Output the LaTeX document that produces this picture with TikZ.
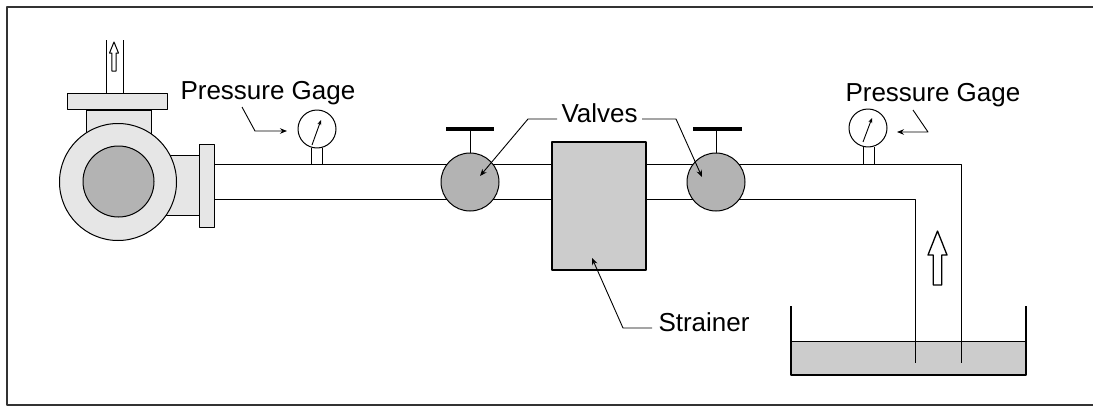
\documentclass[tikz,border=0pt]{standalone}
\usepackage{fontspec}
\setmainfont{Liberation Sans}
\usetikzlibrary{arrows.meta}
\definecolor{lightfill}{HTML}{E6E6E6}
\definecolor{midfill}{HTML}{B3B3B3}
\definecolor{boxfill}{HTML}{CCCCCC}
\definecolor{framecol}{HTML}{333333}
\begin{document}
\begin{tikzpicture}[x=1pt,y=-1pt, line width=1pt, line join=round,
  lbl/.style={inner sep=0pt, anchor=base west, font=\fontsize{26}{26}\selectfont},
  ptr/.style={line width=0.9pt, -{Stealth[length=7pt,width=5.5pt]}},
  needle/.style={line width=0.9pt, -{Stealth[length=5pt,width=4pt]}},
  gauge/.style={circle, draw, fill=white, minimum size=38pt, inner sep=0pt},
  valve/.style={circle, draw, fill=midfill, minimum size=58pt, inner sep=0pt},
  handle/.style={line width=3.5pt},
  part/.style={draw, fill=lightfill},
  hollow/.style={draw, fill=white, line width=1.3pt}]
\useasboundingbox (0,0) rectangle (1093,407);
% frame
\draw[line width=2pt, framecol] (1100,7) -- (7,7) -- (7,405) -- (1100,405);

% pump discharge pipe and arrow
\draw (106,40) -- (106,93) (123,40) -- (123,93);
\draw[hollow, line width=1pt] (114,42) -- (118.5,53) -- (116.2,53) -- (116.2,71) -- (111.8,71) -- (111.8,53) -- (109.5,53) -- cycle;
% pump body
\draw[part] (86,100) rectangle (151,140);
\draw[line width=2pt] (86,109.5) -- (151,109.5);
\draw[part] (160,155) rectangle (199,215);
\node[circle, draw, fill=lightfill, minimum size=117pt, inner sep=0pt] (casing) at (118,182) {};
\node[circle, draw, fill=midfill, minimum size=71pt, inner sep=0pt] (impeller) at (118.5,181.5) {};
\draw[part] (67,93) rectangle (167,109);
\draw[part] (199,144) rectangle (214,227);

% suction pipe
\draw (214,164) -- (961,164) -- (961,363);
\draw (214,199) -- (915,199) -- (915,363);

% gauges
\draw (311,148) -- (311,164) (322,148) -- (322,164);
\node[gauge] (g1) at (317,129) {};
\draw[needle] (312,145) -- (321,120);
\draw (863,147) -- (863,164) (874,147) -- (874,164);
\node[gauge] (g2) at (868,128) {};
\draw[needle] (863,142) -- (872,118);

% valves
\node[valve] (v1) at (470,182) {};
\draw (v1.north) -- (470,129);
\draw[handle] (446,129) -- (494,129);
\node[valve] (v2) at (716,182) {};
\draw (v2.north) -- (716,129);
\draw[handle, line width=4pt] (693,129) -- (742,129);

% strainer
\node[draw, line width=2pt, fill=boxfill, minimum width=94pt, minimum height=128pt, inner sep=0pt] (strainer) at (599,206) {};

% tank
\fill[boxfill] (791,341) rectangle (1026,375);
\draw (791,341) -- (1026,341);
\draw[line width=1.2pt] (791,306) -- (791,375) -- (1026,375) -- (1026,306);
\draw (915,341) -- (915,363) (961,341) -- (961,363);
% flow arrow
\draw[hollow] (937.5,231) -- (947,255) -- (941.7,255) -- (941.7,285) -- (933.3,285) -- (933.3,255) -- (928,255) -- cycle;

% labels
\node[lbl] (pg1) at (180,99) {Pressure Gage};
\node[lbl] (pg2) at (845,101) {Pressure Gage};
\node[lbl] (valves) at (561,122) {Valves};
\node[lbl] (strl) at (658,331) {Strainer};

% leader lines
\coordinate (pg1a) at (242,107);
\coordinate (pg1b) at (255,131);
\coordinate (pg1c) at (287,131);
\draw[ptr] (pg1a) -- (pg1b) -- (pg1c);
\coordinate (pg2a) at (913,110);
\coordinate (pg2b) at (928,132);
\coordinate (pg2c) at (897,132);
\draw[ptr] (pg2a) -- (pg2b) -- (pg2c);
\coordinate (va) at (557,119);
\coordinate (vb) at (528,119);
\coordinate (vc) at (480,176);
\draw[ptr] (va) -- (vb) -- (vc);
\coordinate (vd) at (642,119);
\coordinate (ve) at (676,119);
\coordinate (vf) at (702,177);
\draw[ptr] (vd) -- (ve) -- (vf);
\coordinate (sa) at (652,328);
\coordinate (sb) at (623,328);
\coordinate (sc) at (592,258);
\draw[ptr] (sa) -- (sb) -- (sc);
\end{tikzpicture}
\end{document}
